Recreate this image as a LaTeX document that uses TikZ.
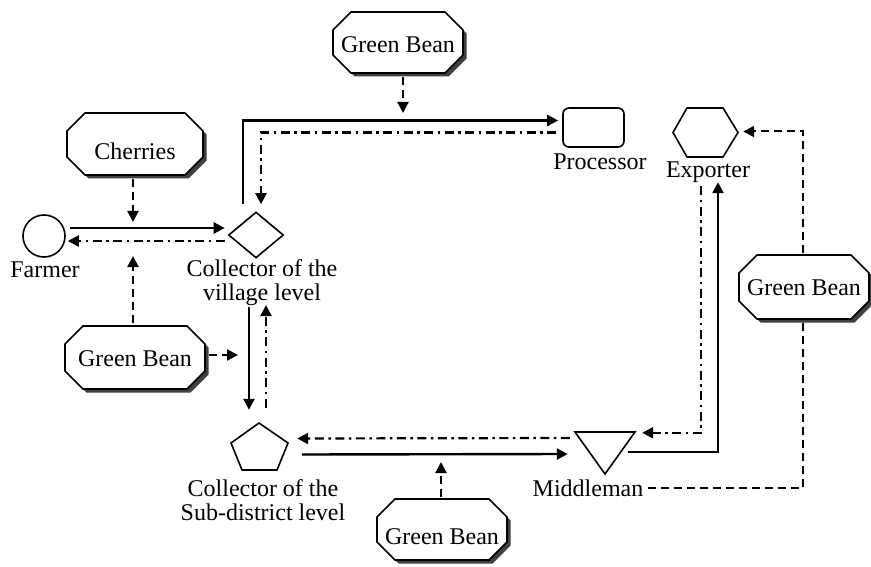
\documentclass[tikz,border=0pt]{standalone}
\usepackage{fontspec}
\setmainfont{Liberation Serif}
\usetikzlibrary{arrows.meta,calc,shapes.geometric}
\newcommand\lblfont{\fontsize{24}{24}\selectfont}
\tikzset{
 shapeline/.style={line width=1.6pt, draw=black, line join=miter},
 solidarrow/.style={line width=2.4pt, line join=miter, -{Triangle[length=11pt,width=11pt]}},
 dasharrow/.style={line width=2.1pt, dash pattern=on 8pt off 5pt, -{Triangle[length=11pt,width=11pt]}},
 dotdasharrow/.style={line width=2.2pt, dash pattern=on 9pt off 4.5pt on 2.5pt off 4.5pt, -{Triangle[length=11pt,width=11pt]}},
 lbl/.style={font=\lblfont, inner sep=0pt},
 shadowc/.style={fill=black!75},
}
% #1 name, #2 cx, #3 cy, #4 w, #5 h, #6 text, #7 text y offset
\newcommand\octbox[7]{%
\begin{scope}[shift={(#2,#3)}]
\fill[shadowc] ({-#4/2+18+3.5},{-#5/2+3.5}) -- ({#4/2-18+3.5},{-#5/2+3.5}) -- ({#4/2+3.5},{-#5/2+18+3.5}) -- ({#4/2+3.5},{#5/2-18+3.5}) -- ({#4/2-18+3.5},{#5/2+3.5}) -- ({-#4/2+18+3.5},{#5/2+3.5}) -- ({-#4/2+3.5},{#5/2-18+3.5}) -- ({-#4/2+3.5},{-#5/2+18+3.5}) -- cycle;
\draw[shapeline, fill=white] ({-#4/2+18},{-#5/2}) -- ({#4/2-18},{-#5/2}) -- ({#4/2},{-#5/2+18}) -- ({#4/2},{#5/2-18}) -- ({#4/2-18},{#5/2}) -- ({-#4/2+18},{#5/2}) -- ({-#4/2},{#5/2-18}) -- ({-#4/2},{-#5/2+18}) -- cycle;
\node[minimum width=#4pt, minimum height=#5pt, inner sep=0pt] (#1) at (0,0) {};
\node[lbl] (#1-t) at (0,#7) {#6};
\end{scope}}
\begin{document}
\begin{tikzpicture}[x=1pt,y=-1pt]
\useasboundingbox (0,0) rectangle (871,567);
\fill[white] (0,0) rectangle (871,567);
% main shapes
\node[circle, shapeline, minimum size=42pt, inner sep=0pt] (farmer) at (44,236) {};
\node[diamond, shapeline, minimum width=55pt, minimum height=46pt, inner sep=0pt] (village) at (256,235) {};
\node[rectangle, rounded corners=6pt, shapeline, minimum width=61pt, minimum height=39pt, inner sep=0pt] (processor) at (593.5,127.5) {};
\draw[shapeline] (673,132.5) -- (687,108) -- (723,108) -- (738,132.5) -- (723,157) -- (687,157) -- cycle;
\node[minimum width=65pt, minimum height=49pt, inner sep=0pt] (exporter) at (705.5,132.5) {};
\draw[shapeline] (575,432) -- (635,432) -- (605,474) -- cycle;
\node[minimum width=60pt, minimum height=42pt, inner sep=0pt] (middleman) at (605,453) {};
\draw[shapeline] (259,423) -- (288,443) -- (277,470) -- (242,470) -- (231,443) -- cycle;
\node[minimum width=57pt, minimum height=47pt, inner sep=0pt] (subdist) at (259.5,446.5) {};
% labels
\node[lbl] (farmerlbl) at (45,270) {Farmer};
\node[lbl, align=center] (villagelbl) at (262,283) {Collector of the\\village level};
\node[lbl, align=center] (subdistlbl) at (263,500) {Collector of the\\Sub-district level};
\node[lbl] (processorlbl) at (600,162) {Processor};
\node[lbl] (exporterlbl) at (708,172) {Exporter};
\node[lbl] (middlemanlbl) at (588,488) {Middleman};
% dashed line behind the right box
\coordinate (rcorner) at (803,131.5);
\draw[dasharrow, line width=2pt] ($(middlemanlbl.east)+(4,0)$) -| (rcorner) -- ($(exporter.east)+(5,-1)$);
% octagon boxes
\octbox{gbtop}{398}{42.5}{130}{61}{Green Bean}{2.5}
\octbox{cherries}{135}{144}{136}{62}{Cherries}{7}
\octbox{gbleft}{135}{357.5}{140}{63}{Green Bean}{1.5}
\octbox{gbright}{804}{287}{130}{64}{Green Bean}{1}
\octbox{gbbottom}{442}{529.5}{130}{61}{Green Bean}{7}
% connectors
\draw[solidarrow] ($(farmer.east)+(4,-8)$) -- ($(village.west)+(-3,-7)$);
\draw[dotdasharrow] ($(village.west)+(-3,6)$) -- ($(farmer.east)+(2,5)$);
\draw[solidarrow] ($(village.north)+(-13,-7)$) |- ($(processor.west)+(-4,-7)$);
\draw[dotdasharrow] ($(processor.west)+(-6,5)$) -| ($(village.north)+(5,-7)$);
\coordinate (cherriesend) at (133,222);
\draw[dasharrow] ($(cherries.south)+(-2,4)$) -- (cherriesend);
\coordinate (gbleftup) at (133,256);
\draw[dasharrow] ($(gbleft.north)+(-2,-3)$) -- (gbleftup);
\coordinate (gbleftright) at (238,355);
\draw[dasharrow] ($(gbleft.east)+(4,-2.5)$) -- (gbleftright);
\coordinate (gbtopend) at (403,113);
\draw[dasharrow] ($(gbtop.south)+(5,4)$) -- (gbtopend);
\coordinate (villagedown) at (249,307);
\draw[solidarrow] (villagedown) -- ($(subdist.north)+(-10.5,-13)$);
\coordinate (villageup) at (266,305);
\draw[dotdasharrow] ($(subdist.north)+(6.5,-15)$) -- (villageup);
\draw[dotdasharrow] ($(middleman.west)+(-5,-15)$) -- ($(subdist.east)+(9,-8)$);
\draw[solidarrow] ($(subdist.east)+(14,8)$) -- ($(middleman.west)+(-7,1)$);
\coordinate (gbbotend) at (441,462);
\draw[dasharrow] ($(gbbottom.north)+(-1,-2)$) -- (gbbotend);
\draw[solidarrow] ($(middleman.east)+(-7,-1)$) -| ($(exporter.south)+(12.5,25)$);
\draw[dotdasharrow] ($(exporter.south)+(-4.5,29)$) |- ($(middleman.north east)+(7,1)$);
\end{tikzpicture}
\end{document}
